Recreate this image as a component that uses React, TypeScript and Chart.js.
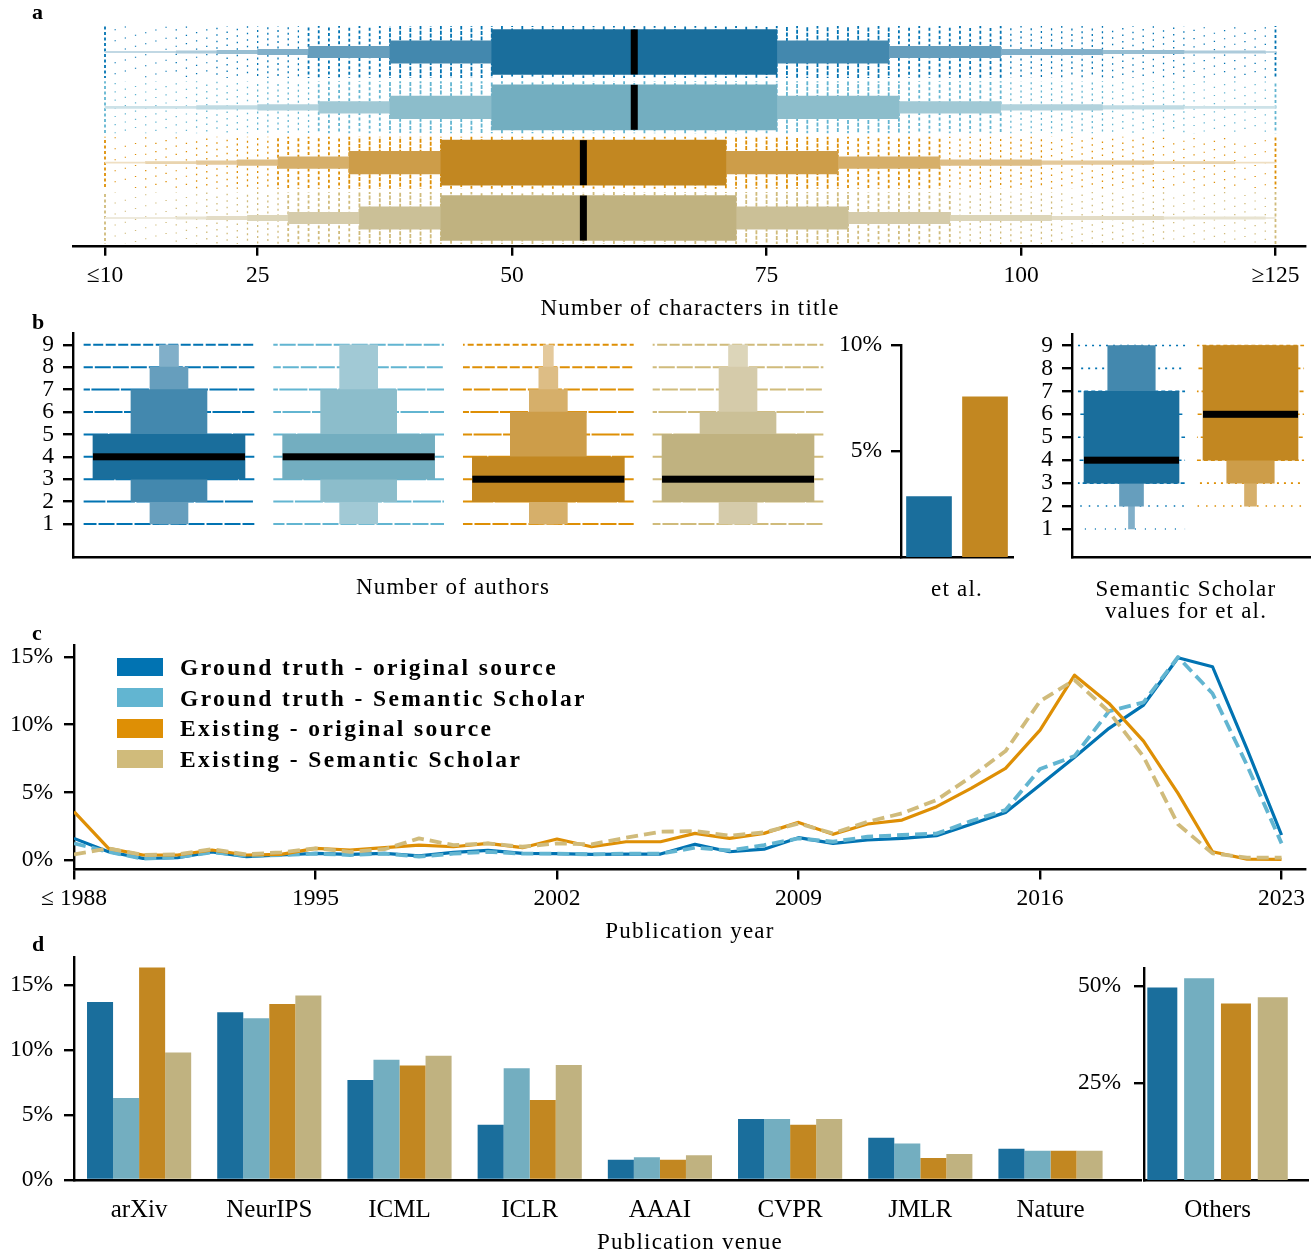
import React, { useEffect, useRef } from "react";
import { Chart, registerables } from "chart.js";

Chart.register(...registerables);

const SERIF = "'Liberation Serif', 'Times New Roman', serif";
Chart.defaults.font.family = SERIF;
Chart.defaults.font.size = 23.5;
Chart.defaults.color = "#000";

/* ------------------------------------------------------------------ */
/* a : number of characters in title (letter-value levels, inner first) */
const titleSeries = [
  "Ground truth - original source",
  "Ground truth - Semantic Scholar",
  "Existing - original source",
  "Existing - Semantic Scholar",
];
const titleLevelsGTOriginal = [[48, 76], [38, 87], [30, 98], [25, 108], [21, 116], [17, 124], [10, 125]];
const titleLevelsGTSemantic = [[48, 76], [38, 88], [31, 98], [25, 108], [19, 116], [10, 125]];
const titleLevelsExOriginal = [[43, 71], [34, 82], [27, 92], [23, 102], [19, 113], [14, 121], [10, 125]];
const titleLevelsExSemantic = [[43, 72], [35, 83], [28, 93], [24, 103], [20, 114], [17, 124], [10, 125]];
const titleMedians = [62, 62, 57, 57];
const titleTicks = [10, 25, 50, 75, 100, 125];
const titleTickLabels = ["≤10", "25", "50", "75", "100", "≥125"];

/* b : number of authors */
const authorTicks = [1, 2, 3, 4, 5, 6, 7, 8, 9];
const authorLevelsGTOriginal = [[3, 5], [2, 7], [1, 8], [1, 9]];
const authorLevelsGTSemantic = [[3, 5], [2, 7], [1, 9]];
const authorLevelsExOriginal = [[2, 4], [2, 6], [1, 7], [1, 8], [1, 9]];
const authorLevelsExSemantic = [[2, 5], [2, 6], [1, 8], [1, 9]];
const authorMedians = [4, 4, 3, 3];
const etAlGroups = ["Ground truth", "Existing"];
const etAlShare = [2.85, 7.55];
const etAlTicks = [5, 10];
const ssEtAlLevelsGT = [[3, 7], [3, 9], [2, 9], [1, 9]];
const ssEtAlLevelsEx = [[4, 9], [3, 9], [2, 9]];
const ssEtAlMedians = [4, 6];

/* c : publication year (%) */
const pubYears = [1988, 1989, 1990, 1991, 1992, 1993, 1994, 1995, 1996, 1997, 1998, 1999, 2000, 2001, 2002, 2003, 2004, 2005,
  2006, 2007, 2008, 2009, 2010, 2011, 2012, 2013, 2014, 2015, 2016, 2017, 2018, 2019, 2020, 2021, 2022, 2023];
const yearGTOriginal = [1.6, 0.61, 0.12, 0.17, 0.6, 0.25, 0.37, 0.49, 0.42, 0.49, 0.3, 0.57, 0.71, 0.49, 0.47, 0.42, 0.44, 0.44,
  1.16, 0.61, 0.8, 1.65, 1.23, 1.48, 1.6, 1.8, 2.64, 3.52, 5.54, 7.6, 9.73, 11.45, 14.94, 14.28, 8.2, 1.85];
const yearGTSemantic = [1.23, 0.6, 0.1, 0.2, 0.57, 0.32, 0.37, 0.47, 0.37, 0.47, 0.25, 0.47, 0.6, 0.47, 0.47, 0.42, 0.47, 0.47,
  0.91, 0.71, 1.1, 1.6, 1.35, 1.72, 1.85, 1.95, 2.88, 3.69, 6.72, 7.68, 11.0, 11.65, 15.0, 12.3, 7.0, 1.23];
const yearExOriginal = [3.57, 0.86, 0.37, 0.37, 0.74, 0.37, 0.42, 0.86, 0.74, 0.91, 1.1, 0.98, 1.23, 0.91, 1.55, 0.98, 1.35, 1.35,
  1.97, 1.6, 1.97, 2.78, 1.9, 2.66, 2.95, 3.94, 5.29, 6.77, 9.6, 13.66, 11.57, 8.79, 4.92, 0.61, 0.07, 0.05];
const yearExSemantic = [0.42, 0.86, 0.37, 0.42, 0.8, 0.42, 0.57, 0.86, 0.61, 0.8, 1.6, 1.1, 1.23, 0.98, 1.23, 1.16, 1.65, 2.09,
  2.14, 1.8, 2.04, 2.7, 1.97, 2.83, 3.45, 4.43, 6.15, 8.05, 11.74, 13.3, 10.95, 7.63, 2.64, 0.49, 0.17, 0.17];
const yearTicks = [1988, 1995, 2002, 2009, 2016, 2023];
const yearTickLabels = ["≤ 1988", "1995", "2002", "2009", "2016", "2023"];
const yearPctTicks = [0, 5, 10, 15];

/* d : publication venue (%) */
const venues = ["arXiv", "NeurIPS", "ICML", "ICLR", "AAAI", "CVPR", "JMLR", "Nature"];
const venueGTOriginal = [13.7, 12.9, 7.7, 4.25, 1.55, 4.7, 3.25, 2.4];
const venueGTSemantic = [6.3, 12.45, 9.25, 8.6, 1.75, 4.7, 2.8, 2.25];
const venueExOriginal = [16.35, 13.55, 8.8, 6.15, 1.55, 4.25, 1.7, 2.25];
const venueExSemantic = [9.8, 14.2, 9.55, 8.85, 1.9, 4.7, 2.0, 2.25];
const venuePctTicks = [0, 5, 10, 15];
const othersLabel = ["Others"];
const othersShare = [49.6, 52.0, 45.5, 47.1];
const othersPctTicks = [25, 50];

/* ------------------------------------------------------------------ */
/* styling */
const RAW = ["#0173b2", "#62b5d1", "#de8f05", "#d0bb7b"];
const DESAT = [[26, 110, 156], [115, 174, 192], [194, 135, 33], [192, 178, 128]];
const LIGHTEN = [0, 0.18, 0.33, 0.45, 0.55, 0.64, 0.73];
const rgb = (c: number[], t = 0) => `rgb(${c.map((v) => Math.round(v + (255 - v) * t)).join(",")})`;

const AXW = 2.4;
const BORDER = { display: true, color: "#000", width: AXW };
const TICK_GRID = { display: true, drawOnChartArea: false, drawTicks: true, tickLength: 10, tickWidth: AXW, tickColor: "#000", lineWidth: AXW, color: "#000", offset: false };
const NO_GRID = { display: false, drawTicks: false, drawOnChartArea: false, offset: false };
const fixTicks = (vals: number[]) => (s: any) => { s.ticks = vals.map((v) => ({ value: v })); };
const fixW = (w: number) => (s: any) => { s.width = w; };
const fixH = (h: number) => (s: any) => { s.height = h; };
const pct = (v: any) => `${v}%`;

type Box = { x: number; y: number; w: number; h: number };
type Plot = { l: number; t: number; r: number; b: number };
const pad = (c: Box, p: Plot, yW: number, xH: number) => ({
  left: p.l - c.x - yW, top: p.t - c.y, right: c.x + c.w - p.r, bottom: c.y + c.h - p.b - xH,
});
const baseOpts = (padding: any) => ({
  responsive: false, animation: false, events: [],
  layout: { padding },
  plugins: { legend: { display: false }, tooltip: { enabled: false } },
});

/* ------------------------------------------------------------------ */
/* a */
const A_C: Box = { x: 0, y: 0, w: 1315, h: 300 };
const A_P: Plot = { l: 73, t: 24.3, r: 1305, b: 245.7 };
const titleThick = [45, 22.5, 11.5, 5.5, 3.5, 2.2, 1.2];
const titleDotDash = [[4, 1.5], [4, 1.5], [3, 2.5], [2, 3.5], [1.5, 5], [1.2, 7], [1, 10]];

function makeTitleChart() {
  const rows = [titleLevelsGTOriginal, titleLevelsGTSemantic, titleLevelsExOriginal, titleLevelsExSemantic];
  const datasets: any[] = [];
  for (let l = 0; l < titleThick.length; l++) {
    rows.forEach((lv, r) => {
      if (l >= lv.length) return;
      datasets.push({
        data: rows.map((_, i) => (i === r ? lv[l] : null)),
        backgroundColor: rgb(DESAT[r], LIGHTEN[l]),
        barThickness: titleThick[l],
        grouped: false,
      });
    });
  }
  const decor = {
    id: "titleDecor",
    beforeDatasetsDraw(chart: any) {
      const { ctx } = chart; const xs = chart.scales.x; const ys = chart.scales.y;
      const half = Math.abs(ys.getPixelForValue(1) - ys.getPixelForValue(0)) * 0.47;
      const lo = titleTicks[0]; const hi = titleTicks[titleTicks.length - 1];
      ctx.save();
      rows.forEach((lv, r) => {
        const cy = ys.getPixelForValue(r);
        ctx.strokeStyle = RAW[r];
        for (let v = lo; v <= hi; v++) {
          let l = lv.findIndex(([a, b]) => v >= a && v <= b);
          if (l < 0) continue;
          if (v === lo || v === hi) l = 2;
          const dash = titleDotDash[l];
          ctx.lineWidth = l < 3 ? 1.8 : 1.3;
          ctx.setLineDash(dash);
          ctx.lineDashOffset = (v * 2.7 + r * 1.3) % (dash[0] + dash[1]);
          const px = xs.getPixelForValue(v);
          ctx.beginPath(); ctx.moveTo(px, cy - half); ctx.lineTo(px, cy + half); ctx.stroke();
        }
      });
      ctx.restore();
    },
    afterDatasetsDraw(chart: any) {
      const { ctx } = chart; const xs = chart.scales.x; const ys = chart.scales.y;
      ctx.save(); ctx.fillStyle = "#000";
      titleMedians.forEach((m, r) => {
        const px = xs.getPixelForValue(m); const cy = ys.getPixelForValue(r);
        ctx.fillRect(px - 3.5, cy - titleThick[0] / 2, 7, titleThick[0]);
      });
      ctx.restore();
    },
  };
  return {
    type: "bar",
    data: { labels: titleSeries, datasets },
    options: {
      ...baseOpts(pad(A_C, A_P, 0, 50)),
      indexAxis: "y",
      scales: {
        x: {
          type: "linear", min: 6.856, max: 127.9, offset: false,
          afterBuildTicks: fixTicks(titleTicks), afterFit: fixH(50),
          ticks: { callback: (v: any) => titleTickLabels[titleTicks.indexOf(v)], padding: 6, autoSkip: false, maxRotation: 0 },
          grid: TICK_GRID, border: BORDER,
        },
        y: { type: "category", display: false },
      },
    },
    plugins: [decor],
  };
}

/* ------------------------------------------------------------------ */
/* vertical boxen decoration (dot rows + median) */
function vBoxenDecor(id: string, groups: any[], halfSpan: number, dashes: number[][], dotW: number) {
  return {
    id,
    beforeDatasetsDraw(chart: any) {
      const { ctx } = chart; const xs = chart.scales.x; const ys = chart.scales.y;
      ctx.save(); ctx.lineWidth = dotW;
      groups.forEach((g: any) => {
        const cx = xs.getPixelForValue(g.at);
        const half = Math.abs(xs.getPixelForValue(g.at + halfSpan) - cx);
        ctx.strokeStyle = g.color;
        authorTicks.forEach((v) => {
          const l = g.levels.findIndex(([a, b]: number[]) => v >= a && v <= b);
          if (l < 0) return;
          const dash = dashes[Math.min(l, dashes.length - 1)];
          ctx.setLineDash(dash);
          ctx.lineDashOffset = (v * 3.1 + g.at * 1.7) % (dash[0] + dash[1]);
          const py = ys.getPixelForValue(v);
          ctx.beginPath(); ctx.moveTo(cx - half, py); ctx.lineTo(cx + half, py); ctx.stroke();
        });
      });
      ctx.restore();
    },
    afterDatasetsDraw(chart: any) {
      const { ctx } = chart; const xs = chart.scales.x; const ys = chart.scales.y;
      ctx.save(); ctx.fillStyle = "#000";
      groups.forEach((g: any) => {
        const cx = xs.getPixelForValue(g.at); const py = ys.getPixelForValue(g.median);
        ctx.fillRect(cx - g.boxPx / 2, py - 3.5, g.boxPx, 7);
      });
      ctx.restore();
    },
  };
}

/* b left */
const B1_C: Box = { x: 0, y: 300, w: 905, h: 290 };
const B1_P: Plot = { l: 73, t: 333.6, r: 900, b: 557.6 };
const authorWidths = [152, 76, 38, 19, 10];

function makeAuthorsChart() {
  const groups = [authorLevelsGTOriginal, authorLevelsGTSemantic, authorLevelsExOriginal, authorLevelsExSemantic];
  const datasets: any[] = [];
  for (let l = 0; l < authorWidths.length; l++) {
    groups.forEach((lv, g) => {
      if (l >= lv.length) return;
      datasets.push({
        data: [{ x: g, y: lv[l] }],
        backgroundColor: rgb(DESAT[g], LIGHTEN[l]),
        barThickness: authorWidths[l],
        grouped: false,
      });
    });
  }
  const decor = vBoxenDecor("authorsDecor",
    groups.map((lv, g) => ({ at: g, levels: lv, median: authorMedians[g], color: RAW[g], boxPx: authorWidths[0] })),
    0.45, [[40, 1.2], [28, 1.5], [16, 2], [10, 2.5], [6, 3]], 2);
  return {
    type: "bar",
    data: { datasets },
    options: {
      ...baseOpts(pad(B1_C, B1_P, 60, 10)),
      scales: {
        x: { type: "linear", min: -0.506, max: 3.854, offset: false, ticks: { display: false }, grid: NO_GRID, border: BORDER, afterFit: fixH(10) },
        y: {
          type: "linear", min: -0.5, max: 9.5, afterBuildTicks: fixTicks(authorTicks), afterFit: fixW(60),
          ticks: { padding: 9, autoSkip: false }, grid: TICK_GRID, border: BORDER,
        },
      },
    },
    plugins: [decor],
  };
}

/* b middle: et al. share */
const B2_C: Box = { x: 820, y: 300, w: 200, h: 290 };
const B2_P: Plot = { l: 901, t: 345, r: 1013, b: 557 };

function makeEtAlChart() {
  return {
    type: "bar",
    data: {
      labels: etAlGroups,
      datasets: [{ data: etAlShare, backgroundColor: [rgb(DESAT[0]), rgb(DESAT[2])], barThickness: 45 }],
    },
    options: {
      ...baseOpts(pad(B2_C, B2_P, 70, 10)),
      scales: {
        x: { type: "category", ticks: { display: false }, grid: NO_GRID, border: BORDER, afterFit: fixH(10) },
        y: {
          type: "linear", min: 0, max: 10, afterBuildTicks: fixTicks(etAlTicks), afterFit: fixW(70),
          ticks: { callback: pct, padding: 9 }, grid: TICK_GRID, border: BORDER,
        },
      },
    },
  };
}

/* b right: Semantic Scholar values for et al. */
const B3_C: Box = { x: 1015, y: 300, w: 300, h: 290 };
const B3_P: Plot = { l: 1072, t: 334, r: 1310, b: 557 };
const ssWidths = [[95, 47.5, 24, 6], [95, 47.5, 12]];

function makeSSChart() {
  const groups = [ssEtAlLevelsGT, ssEtAlLevelsEx];
  const colorIdx = [0, 2];
  const datasets: any[] = [];
  for (let l = 0; l < 4; l++) {
    groups.forEach((lv, g) => {
      if (l >= lv.length) return;
      datasets.push({
        data: groups.map((_, i) => (i === g ? lv[l] : null)),
        backgroundColor: rgb(DESAT[colorIdx[g]], LIGHTEN[l]),
        barThickness: ssWidths[g][l],
        grouped: false,
      });
    });
  }
  const decor = vBoxenDecor("ssDecor",
    groups.map((lv, g) => ({ at: g, levels: lv, median: ssEtAlMedians[g], color: RAW[colorIdx[g]], boxPx: ssWidths[g][0] })),
    0.45, [[4, 3], [2, 5], [1.5, 7], [1, 9]], 1.6);
  return {
    type: "bar",
    data: { labels: etAlGroups, datasets },
    options: {
      ...baseOpts(pad(B3_C, B3_P, 45, 10)),
      scales: {
        x: { type: "category", ticks: { display: false }, grid: NO_GRID, border: BORDER, afterFit: fixH(10) },
        y: {
          type: "linear", min: -0.22, max: 9.5, afterBuildTicks: fixTicks(authorTicks), afterFit: fixW(45),
          ticks: { padding: 9, autoSkip: false }, grid: TICK_GRID, border: BORDER,
        },
      },
    },
    plugins: [decor],
  };
}

/* ------------------------------------------------------------------ */
/* c */
const C_C: Box = { x: 0, y: 620, w: 1315, h: 300 };
const C_P: Plot = { l: 74, t: 645.5, r: 1305, b: 869.5 };

function makeYearChart() {
  const series = [yearGTOriginal, yearGTSemantic, yearExOriginal, yearExSemantic];
  const dashes = [[], [12, 6], [], [12, 6]];
  const widths = [3.2, 3.8, 3.2, 3.8];
  return {
    type: "line",
    data: {
      datasets: series.map((s, i) => ({
        label: titleSeries[i],
        data: pubYears.map((yr, k) => ({ x: yr, y: s[k] })),
        borderColor: RAW[i], borderWidth: widths[i], borderDash: dashes[i],
        borderJoinStyle: "round", pointRadius: 0, tension: 0, fill: false, order: 4 - i,
      })),
    },
    options: {
      ...baseOpts(pad(C_C, C_P, 72, 45)),
      scales: {
        x: {
          type: "linear", min: 1988, max: 2023.68, afterBuildTicks: fixTicks(yearTicks), afterFit: fixH(45),
          ticks: { callback: (v: any) => yearTickLabels[yearTicks.indexOf(v)], padding: 5, autoSkip: false, maxRotation: 0 },
          grid: TICK_GRID, border: BORDER,
        },
        y: {
          type: "linear", min: -0.7, max: 15.85, afterBuildTicks: fixTicks(yearPctTicks), afterFit: fixW(72),
          ticks: { callback: pct, padding: 11 }, grid: TICK_GRID, border: BORDER,
        },
      },
    },
  };
}

/* ------------------------------------------------------------------ */
/* d */
const D1_C: Box = { x: 0, y: 930, w: 1143, h: 300 };
const D1_P: Plot = { l: 74, t: 956.7, r: 1141, b: 1180 };
const D2_C: Box = { x: 1050, y: 930, w: 265, h: 300 };
const D2_P: Plot = { l: 1144, t: 967.7, r: 1308, b: 1180 };
const VENUE_FONT = { size: 25, family: SERIF };

function makeVenueChart() {
  const series = [venueGTOriginal, venueGTSemantic, venueExOriginal, venueExSemantic];
  return {
    type: "bar",
    data: {
      datasets: series.map((s, i) => ({
        label: titleSeries[i],
        data: s.map((v, k) => ({ x: k, y: v })),
        backgroundColor: rgb(DESAT[i]),
        categoryPercentage: 0.8, barPercentage: 1,
      })),
    },
    options: {
      ...baseOpts(pad(D1_C, D1_P, 72, 45)),
      scales: {
        x: {
          type: "linear", min: -0.5, max: 7.695, offset: false,
          afterBuildTicks: fixTicks(venues.map((_, i) => i)), afterFit: fixH(45),
          ticks: { callback: (v: any) => venues[v], padding: 15, autoSkip: false, maxRotation: 0, font: VENUE_FONT },
          grid: NO_GRID, border: BORDER,
        },
        y: {
          type: "linear", min: 0, max: 17.18, afterBuildTicks: fixTicks(venuePctTicks), afterFit: fixW(72),
          ticks: { callback: pct, padding: 11 }, grid: TICK_GRID, border: BORDER,
        },
      },
    },
  };
}

function makeOthersChart() {
  return {
    type: "bar",
    data: {
      datasets: othersShare.map((v, i) => ({
        label: titleSeries[i],
        data: [{ x: 0, y: v }],
        backgroundColor: rgb(DESAT[i]),
        categoryPercentage: 0.898, barPercentage: 0.815,
      })),
    },
    options: {
      ...baseOpts(pad(D2_C, D2_P, 85, 45)),
      scales: {
        x: {
          type: "linear", min: -0.5, max: 0.615, offset: false,
          afterBuildTicks: fixTicks([0]), afterFit: fixH(45),
          ticks: { callback: () => othersLabel[0], padding: 15, autoSkip: false, maxRotation: 0, font: VENUE_FONT },
          grid: NO_GRID, border: BORDER,
        },
        y: {
          type: "linear", min: 0, max: 54.7, afterBuildTicks: fixTicks(othersPctTicks), afterFit: fixW(85),
          ticks: { callback: pct, padding: 13 }, grid: TICK_GRID, border: BORDER,
        },
      },
    },
  };
}

/* ------------------------------------------------------------------ */
function ChartBox({ box, make }: { box: Box; make: () => any }) {
  const ref = useRef<HTMLCanvasElement>(null);
  useEffect(() => {
    const chart = new Chart(ref.current as HTMLCanvasElement, make());
    return () => chart.destroy();
  }, []);
  return (
    <canvas
      ref={ref}
      width={box.w}
      height={box.h}
      style={{ position: "absolute", left: box.x, top: box.y, width: box.w, height: box.h }}
    />
  );
}

function Txt({ cx, cy, left, children, bold = false, size = 23, ls = 1.2 }: any) {
  const style: any = {
    position: "absolute", top: cy - 14, height: 28, lineHeight: "28px", fontSize: size,
    letterSpacing: ls, whiteSpace: "nowrap", fontWeight: bold ? 700 : 400, fontFamily: SERIF,
  };
  if (left === undefined) { style.left = cx - 300; style.width = 600; style.textAlign = "center"; }
  else { style.left = left; }
  return <div style={style}>{children}</div>;
}

const legendY = [667, 697.7, 728.3, 759];

export default function App() {
  return (
    <div style={{ position: "absolute", left: 0, top: 0, width: 1315, height: 1255, background: "#fff", color: "#000", fontFamily: SERIF }}>
      <ChartBox box={A_C} make={makeTitleChart} />
      <ChartBox box={B1_C} make={makeAuthorsChart} />
      <ChartBox box={B2_C} make={makeEtAlChart} />
      <ChartBox box={B3_C} make={makeSSChart} />
      <ChartBox box={C_C} make={makeYearChart} />
      <ChartBox box={D1_C} make={makeVenueChart} />
      <ChartBox box={D2_C} make={makeOthersChart} />

      <Txt left={32} cy={12} bold size={22} ls={0}>a</Txt>
      <Txt left={32} cy={322} bold size={22} ls={0}>b</Txt>
      <Txt left={32} cy={633} bold size={22} ls={0}>c</Txt>
      <Txt left={32} cy={944} bold size={22} ls={0}>d</Txt>

      <Txt cx={690} cy={308}>Number of characters in title</Txt>
      <Txt cx={453} cy={587}>Number of authors</Txt>
      <Txt cx={957} cy={589}>et al.</Txt>
      <Txt cx={1186} cy={589}>Semantic Scholar</Txt>
      <Txt cx={1186} cy={611}>values for et al.</Txt>
      <Txt cx={690} cy={931}>Publication year</Txt>
      <Txt cx={690} cy={1242}>Publication venue</Txt>

      {titleSeries.map((name, i) => (
        <React.Fragment key={name}>
          <div style={{ position: "absolute", left: 116.5, top: legendY[i] - 9.3, width: 46.3, height: 18.7, background: RAW[i] }} />
          <Txt left={180} cy={legendY[i]} bold size={23.5} ls={2.4}>{name}</Txt>
        </React.Fragment>
      ))}
    </div>
  );
}
